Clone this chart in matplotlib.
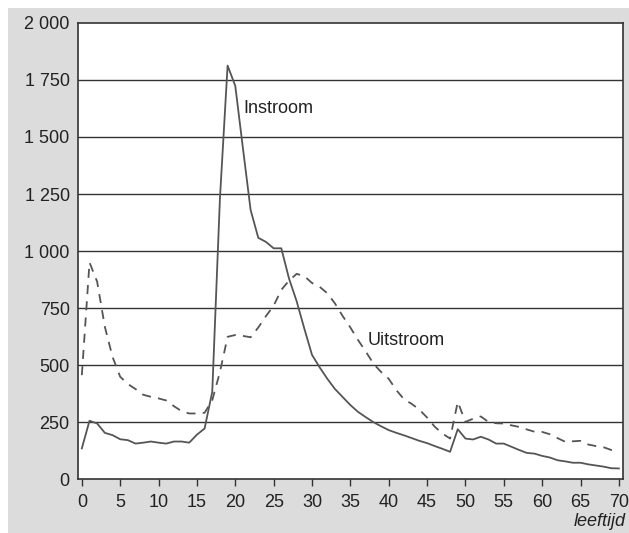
import numpy as np
import matplotlib.pyplot as plt
from matplotlib.patches import Rectangle

plt.rcParams['font.family'] = ['Liberation Sans', 'DejaVu Sans']

BG = '#dcdcdc'
LINE = '#555555'
DARK = '#333333'
TXT = '#222222'
FS = 13

ages = np.arange(0, 71)

instroom = [
    135, 256, 244, 203, 193, 175, 171, 156, 160, 165,
    160, 156, 165, 165, 160, 195, 222, 383, 1230, 1813,
    1724, 1450, 1180, 1058, 1040, 1012, 1012, 880, 780, 660,
    545, 490, 440, 395, 360, 325, 295, 272, 250, 232,
    215, 203, 192, 180, 168, 158, 145, 133, 120, 219,
    178, 174, 186, 174, 156, 156, 142, 128, 115, 112,
    102, 95, 83, 78, 72, 72, 65, 60, 55, 48,
    47,
]

uitstroom = [
    456, 950, 865, 668, 536, 449, 417, 395, 370, 361,
    354, 345, 320, 298, 288, 288, 291, 346, 470, 624,
    632, 628, 622, 665, 715, 760, 830, 870, 900, 890,
    860, 843, 815, 770, 715, 665, 610, 560, 507, 470,
    440, 390, 350, 330, 305, 270, 230, 200, 178, 339,
    251, 265, 275, 251, 245, 244, 236, 229, 218, 208,
    207, 197, 180, 164, 166, 168, 152, 145, 140, 128,
    120,
]

y_ticks = np.arange(0, 2001, 250)
x_ticks = np.arange(0, 71, 5)


def fmt(v):
    return f"{v:,}".replace(",", " ")


fig = plt.figure(figsize=(6.29, 5.33), dpi=100, facecolor='white')
# grey panel, with a thin white margin at top and left
fig.patches.append(Rectangle((8 / 629, 0), 1, 1 - 8 / 533, transform=fig.transFigure,
                             facecolor=BG, edgecolor='none', zorder=-10))

ax = fig.add_axes([0.124, 0.101, 0.866, 0.856])
ax.set_facecolor('white')

for t in y_ticks[1:-1]:
    ax.axhline(t, color=DARK, lw=1.0, zorder=1)

ax.plot(ages, instroom, color=LINE, lw=1.3, zorder=3)
ax.plot(ages, uitstroom, color=LINE, lw=1.3, ls=(0, (5, 4)), zorder=3)

ax.set_xlim(-0.5, 70.5)
ax.set_ylim(0, 2000)
ax.set_xticks(x_ticks)
ax.set_yticks(y_ticks)
ax.set_yticklabels([fmt(v) for v in y_ticks])
ax.tick_params(axis='x', length=5, width=1, color=DARK, labelsize=FS, labelcolor=TXT, pad=6)
ax.tick_params(axis='y', length=0, labelsize=FS, labelcolor=TXT, pad=6)
for s in ax.spines.values():
    s.set_color(DARK)
    s.set_linewidth(1.2)

ax.text(21.0, 1627, 'Instroom', fontsize=FS, va='center', ha='left', color=TXT)
ax.text(37.3, 610, 'Uitstroom', fontsize=FS, va='center', ha='left', color=TXT)
fig.text(626 / 629, (533 - 526) / 533, 'leeftijd', fontsize=FS, style='italic',
         ha='right', va='baseline', color=TXT)

fig.savefig('out.png', dpi=100, facecolor='white')
